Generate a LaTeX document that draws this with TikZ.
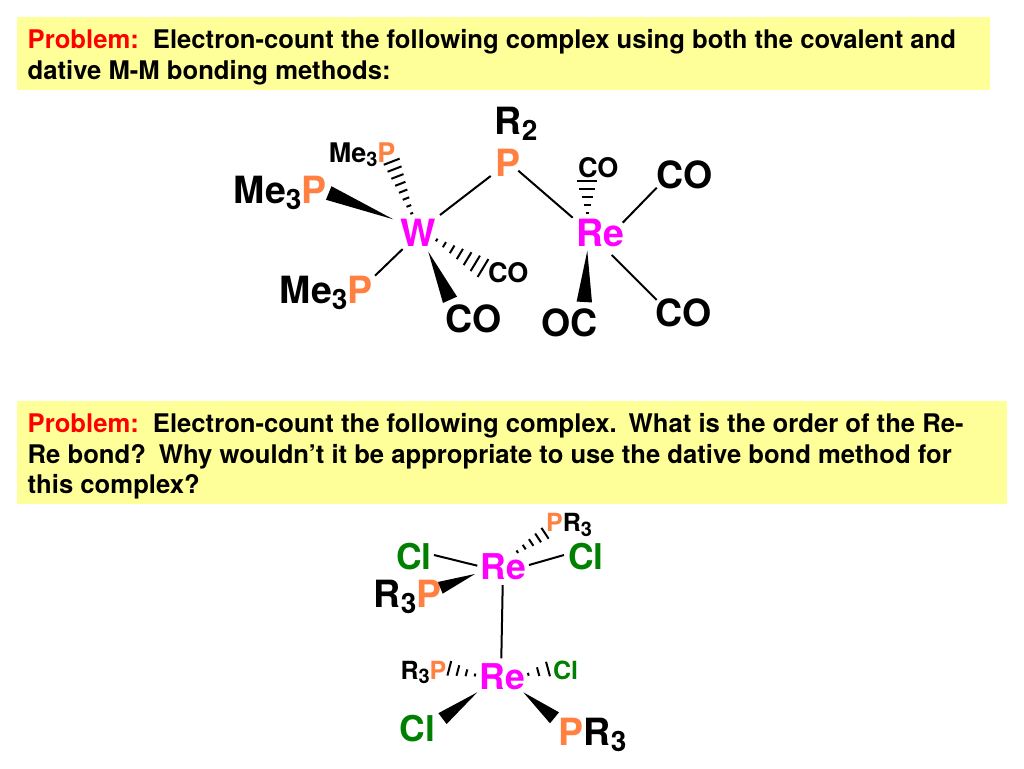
\documentclass[tikz,border=0pt]{standalone}
\usepackage{fontspec}
\setmainfont{TeX Gyre Heros}
\usetikzlibrary{calc}
\definecolor{phos}{HTML}{FF8040}
\definecolor{metal}{HTML}{FF00FF}
\definecolor{chlor}{HTML}{008000}
\definecolor{boxy}{HTML}{FFFF99}
\newcommand{\phs}{\textcolor{phos}{P}}
\newcommand{\dn}[1]{\raisebox{-1.5pt}{#1}}
\newcommand{\subB}[1]{\raisebox{-6pt}{\fontsize{28}{28}\selectfont #1}}
\newcommand{\subS}[1]{\raisebox{-4.5pt}{\fontsize{20}{20}\selectfont #1}}
\newcommand{\wedgebond}[3]{%
  \coordinate (wa) at (#1); \coordinate (wb) at (#2);
  \fill (wa) -- ($(wb)!#3pt!90:(wa)$) -- ($(wb)!#3pt!-90:(wa)$) -- cycle;}
\newcommand{\hashbond}[4]{%
  \coordinate (ha) at (#1); \coordinate (hb) at (#2);
  \foreach \i in {1,...,#4}{%
    \pgfmathsetmacro{\t}{(\i-1)/(#4-1)}
    \pgfmathsetmacro{\h}{1.5+(#3-1.5)*\t}
    \coordinate (hm) at ($(ha)!\t!(hb)$);
    \draw[hashline] ($(hm)+($(ha)!\h pt!90:(hb)$)-(ha)$) -- ($(hm)+($(ha)!\h pt!-90:(hb)$)-(ha)$);
  }}
\tikzset{
  bond/.style={line width=2pt},
  hashline/.style={line width=2pt},
  atom/.style={inner sep=0pt,outer sep=0pt,anchor=base west,execute at begin node={\hspace*{-1.2pt}}},
  big/.style={atom,font=\bfseries\fontsize{37.5}{37.5}\selectfont},
  mid/.style={atom,font=\bfseries\fontsize{35.5}{35.5}\selectfont},
  small/.style={atom,font=\bfseries\fontsize{27}{27}\selectfont},
  tiny/.style={atom,font=\bfseries\fontsize{25}{25}\selectfont},
  banner/.style={fill=boxy,draw=none,anchor=north west,inner sep=0pt},
  bannertext/.style={anchor=north west,inner sep=0pt,align=left,
    font=\bfseries\fontsize{25.65}{30.8}\selectfont},
}
\begin{document}
\begin{tikzpicture}[x=1pt,y=-1pt]
\useasboundingbox (0,0) rectangle (1024,768);
\fill[white] (0,0) rectangle (1024,768);
\node[banner,minimum height=73pt,minimum width=973pt] (box1) at (17,17) {};
\node[banner,minimum height=103pt,minimum width=990pt] (box2) at (17,401) {};
\node[bannertext] (text1) at ([shift={(10.5,12.3)}]box1.north west)
  {\textcolor{red}{Problem:}\hspace{0.55em}Electron-count the following complex using both the covalent and\\dative M-M bonding methods:};
\node[bannertext] (text2) at ([shift={(10.5,12)}]box2.north west)
  {\textcolor{red}{Problem:}\hspace{0.55em}Electron-count the following complex.\hspace{0.47em}What is the order of the Re-\\Re bond?\hspace{0.5em}Why wouldn’t it be appropriate to use the dative bond method for\\this complex?};
% upper complex
\node[big,text=metal] (W) at (401.7,245) {\dn{W}};
\node[big,text=metal] (Re1) at (577.3,244.5) {\dn{Re}};
\node[big] (R2) at (496,134.3) {R\subB{2}};
\node[big,text=phos] (P1) at (496.7,176) {P};
\node[small] (MeA) at (330,160.7) {\dn{Me\subS{3}\phs}};
\node[big] (MeB) at (235,201.7) {\dn{Me\subB{3}\phs}};
\node[big] (MeC) at (281,301.7) {\dn{Me\subB{3}\phs}};
\node[small] (COa) at (489.3,281) {\dn{CO}};
\node[big] (COb) at (446.7,330.7) {\dn{CO}};
\node[small] (COc) at (579.3,176) {\dn{CO}};
\node[big] (COd) at (657.7,187) {\dn{CO}};
\node[big] (COe) at (656.7,325) {\dn{CO}};
\node[big] (OC) at (542.3,335) {\dn{OC}};
\draw[bond] ([shift={(38.3,-30)}]W.base west) -- ([shift={(-6,0)}]P1.base west);
\draw[bond] ([shift={(21.6,-5.3)}]P1.base west) -- ([shift={(-4.6,-26.8)}]Re1.base west);
\draw[bond] ([shift={(1,4)}]W.base west) -- ([shift={(94,-26)}]MeC.base west);
\draw[bond] ([shift={(45.4,-21.8)}]Re1.base west) -- ([shift={(-1,0.7)}]COd.base west);
\draw[bond] ([shift={(34.4,10.5)}]Re1.base west) -- ([shift={(0,-25)}]COe.base west);
\wedgebond{[shift={(-8.4,-25.7)}]W.base west}{[shift={(93.7,-8.7)}]MeB.base west}{7.3}
\wedgebond{[shift={(26.6,6.7)}]W.base west}{[shift={(3.3,-30.9)}]COb.base west}{7.7}
\wedgebond{[shift={(10,6.2)}]Re1.base west}{[shift={(42,-33)}]OC.base west}{7.7}
\hashbond{[shift={(10,-31.7)}]W.base west}{[shift={(61.7,1)}]MeA.base west}{8.5}{8}
\hashbond{[shift={(35,-5)}]W.base west}{[shift={(-6.3,-13)}]COa.base west}{10.5}{7}
\hashbond{[shift={(10,-31.8)}]Re1.base west}{[shift={(8,5)}]COc.base west}{10}{5}
% lower complex
\node[mid,text=metal] (ReT) at (481.7,578.3) {\dn{Re}};
\node[mid,text=metal] (ReB) at (480.7,687.7) {\dn{Re}};
\node[tiny] (PRa) at (547.3,530) {\dn{\phs R\subS{3}}};
\node[mid,text=chlor] (ClL) at (397.3,567.7) {\dn{Cl}};
\node[mid,text=chlor] (ClR) at (569.3,567.7) {\dn{Cl}};
\node[big] (RPa) at (375,605.7) {\dn{R\subB{3}\phs}};
\node[tiny] (RPb) at (401.7,677.7) {\dn{R\subS{3}\phs}};
\node[tiny,text=chlor] (ClS) at (554.3,678.3) {\dn{Cl}};
\node[mid,text=chlor] (ClB) at (401,740) {\dn{Cl}};
\node[big] (PRb) at (560,744) {\dn{\phs R\subB{3}}};
\draw[bond] ([shift={(36.7,-12.7)}]ClL.base west) -- ([shift={(-4.4,-12.6)}]ReT.base west);
\draw[bond] ([shift={(47.3,-13.3)}]ReT.base west) -- ([shift={(-5.3,-12.7)}]ClR.base west);
\draw[bond] ([shift={(21,6.7)}]ReT.base west) -- ([shift={(20.6,-29.4)}]ReB.base west);
\wedgebond{[shift={(-6.7,-4.3)}]ReT.base west}{[shift={(65.3,-17.9)}]RPa.base west}{6.3}
\wedgebond{[shift={(-3.4,4.6)}]ReB.base west}{[shift={(41.5,-21.4)}]ClB.base west}{6.8}
\wedgebond{[shift={(42.6,4.6)}]ReB.base west}{[shift={(-5.5,-26.2)}]PRb.base west}{7.1}
\hashbond{[shift={(35.6,-26.6)}]ReT.base west}{[shift={(-2.3,3.3)}]PRa.base west}{6.5}{5}
\hashbond{[shift={(-5.7,-12.7)}]ReB.base west}{[shift={(47.6,-9.4)}]RPb.base west}{7.5}{4}
\hashbond{[shift={(47.6,-13.4)}]ReB.base west}{[shift={(-6.3,-9.3)}]ClS.base west}{7.5}{3}
\end{tikzpicture}
\end{document}
